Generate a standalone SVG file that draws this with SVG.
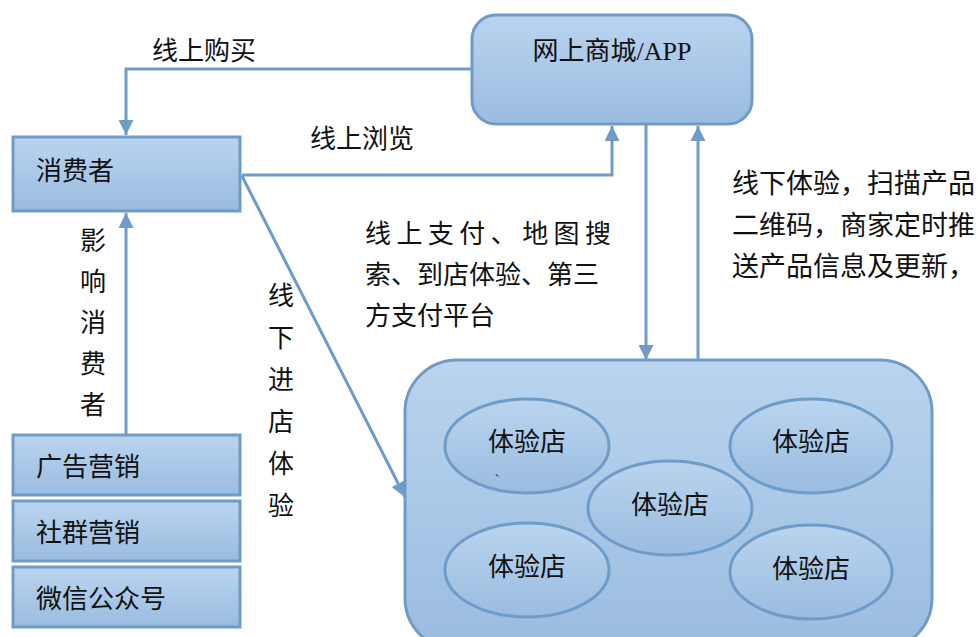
<svg xmlns="http://www.w3.org/2000/svg" width="980" height="637" viewBox="0 0 980 637">
<defs>
<linearGradient id="g" x1="0" y1="0" x2="0" y2="1">
<stop offset="0" stop-color="#bad4ef"/>
<stop offset="1" stop-color="#9abce0"/>
</linearGradient>
<marker id="ah" viewBox="0 0 10 10" refX="10" refY="5" markerWidth="5" markerHeight="5" markerUnits="strokeWidth" orient="auto">
<path d="M0,0 L10,5 L0,10 z" fill="#6f9bc8"/>
</marker>
<style>
.n{fill:url(#g);stroke:#6f9bc8;stroke-width:3}
.e{fill:url(#g);stroke:#6f9bc8;stroke-width:3}
.c{fill:none;stroke:#6f9bc8;stroke-width:3;marker-end:url(#ah)}
text{font-family:"Liberation Serif","Noto Sans CJK SC",serif;font-size:26px;fill:#111}
text.r{font-size:27px}
text.dot{font-size:10px}
</style>
</defs>
<rect width="980" height="637" fill="#fff"/>
<g id="connectors">
<path class="c" d="M472,69 H126 V135"/>
<path class="c" d="M242,175 H612 V126"/>
<path class="c" d="M242,176 L405,497"/>
<path class="c" d="M646,124 V360"/>
<path class="c" d="M698,360 V126"/>
<path class="c" d="M126,435 V213"/>
</g>
<g id="shop">
<rect class="n" x="472" y="15" width="280" height="109" rx="24"/>
<text x="612" y="60" text-anchor="middle">网上商城/APP</text>
</g>
<g id="consumer">
<rect class="n" x="13" y="137" width="227" height="74"/>
<text x="36" y="180">消费者</text>
</g>
<g id="ad">
<rect class="n" x="13" y="435" width="227" height="60"/>
<text x="36" y="476">广告营销</text>
</g>
<g id="community">
<rect class="n" x="13" y="501" width="227" height="60"/>
<text x="36" y="542">社群营销</text>
</g>
<g id="wechat">
<rect class="n" x="13" y="567" width="227" height="60"/>
<text x="36" y="608">微信公众号</text>
</g>
<g id="stores">
<rect class="n" x="405" y="360" width="527" height="290" rx="52"/>
</g>
<g id="store1">
<ellipse class="e" cx="527" cy="446" rx="82" ry="47"/>
<text x="527" y="451" text-anchor="middle">体验店</text>
<text class="dot" x="495" y="476">、</text>
</g>
<g id="store2">
<ellipse class="e" cx="811" cy="446" rx="81" ry="47"/>
<text x="811" y="451" text-anchor="middle">体验店</text>
</g>
<g id="store3">
<ellipse class="e" cx="670" cy="508" rx="82" ry="47"/>
<text x="670" y="514" text-anchor="middle">体验店</text>
</g>
<g id="store4">
<ellipse class="e" cx="527" cy="570" rx="82" ry="47"/>
<text x="527" y="576" text-anchor="middle">体验店</text>
</g>
<g id="store5">
<ellipse class="e" cx="811" cy="572" rx="81" ry="47"/>
<text x="811" y="578" text-anchor="middle">体验店</text>
</g>
<g id="labels">
<text x="152" y="60">线上购买</text>
<text x="310" y="148">线上浏览</text>
<text x="365" y="243" textLength="246" lengthAdjust="spacing">线上支付、地图搜</text>
<text x="365" y="284">索、到店体验、第三</text>
<text x="365" y="325">方支付平台</text>
<text class="r" x="732" y="193">线下体验，扫描产品</text>
<text class="r" x="732" y="235">二维码，商家定时推</text>
<text class="r" x="732" y="276">送产品信息及更新，</text>
<g text-anchor="middle">
<text x="93" y="250">影</text>
<text x="93" y="291">响</text>
<text x="93" y="332">消</text>
<text x="93" y="373">费</text>
<text x="93" y="414">者</text>
<text x="281" y="305">线</text>
<text x="281" y="347">下</text>
<text x="281" y="389">进</text>
<text x="281" y="431">店</text>
<text x="281" y="473">体</text>
<text x="281" y="515">验</text>
</g>
</g>
</svg>
